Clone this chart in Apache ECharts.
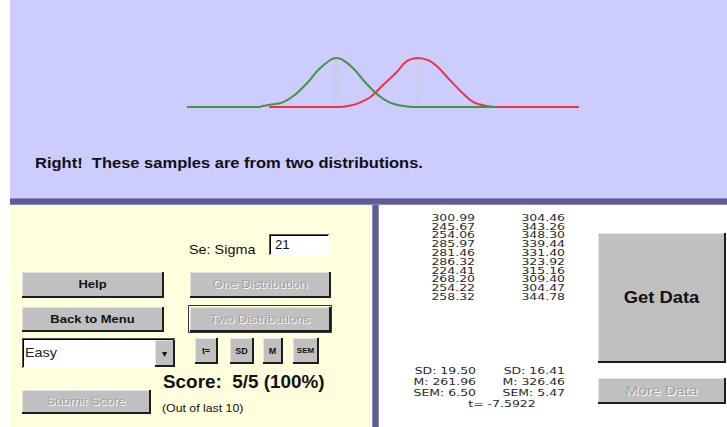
<!DOCTYPE html>
<html>
<head>
<meta charset="utf-8">
<script src="https://cdn.jsdelivr.net/npm/echarts@6/dist/echarts.min.js"></script>
<style>html,body{margin:0;padding:0;background:#fff}#c{width:727px;height:427px}</style>
</head>
<body>
<div id="c"></div>
<script>
// ---- data ----
const greenCurve = [[128,0],[190,0],[192,0.02],[200,0.05],[210,0.10],[220,0.25],[230,0.48],[240,0.76],[250,0.96],[255,1],[260,0.97],[270,0.78],[280,0.50],[290,0.26],[300,0.10],[310,0.03],[320,0],[392,0]];
const redCurve = [[198,0],[258,0],[265,0.02],[273,0.07],[284,0.20],[295,0.45],[307,0.72],[315,0.93],[325,1],[334,0.95],[341,0.83],[352,0.55],[363,0.28],[372,0.10],[383,0.02],[392,0],[462,0]];
const distMeans = [255, 325];
const sample1 = ['300.99','245.67','254.06','285.97','281.46','286.32','224.41','268.20','254.22','258.32'];
const sample2 = ['304.46','343.26','348.30','339.44','331.40','323.92','315.16','309.40','304.47','344.78'];
const stats1 = ['SD: 19.50','M: 261.96','SEM: 6.50'];
const stats2 = ['SD: 16.41','M: 326.46','SEM: 5.47'];
const tText = 't= -7.5922';
const message = 'Right!  These samples are from two distributions.';
const sigmaValue = '21';
const scoreText = 'Score:  5/5 (100%)';
const scoreNote = '(Out of last 10)';

const F = '"Liberation Sans", Arial, sans-serif';
const G = [];
function rect(x,y,w,h,fill,extra){G.push(Object.assign({type:'rect',shape:{x,y,width:w,height:h},style:{fill},silent:true,z:-10},extra||{}));}
function line(x1,y1,x2,y2,stroke,w){G.push({type:'line',shape:{x1,y1,x2,y2},style:{stroke,lineWidth:w||1},silent:true,z:-9});}
function text(t,x,y,font,fill,align,sx){G.push({type:'text',x,y,scaleX:sx||1,style:{text:t,font,fill:fill||'#000',textAlign:align||'left',textVerticalAlign:'middle'},silent:true,z:5});}
function button(x,y,w,h,label,opt){
  opt=opt||{};
  rect(x,y,w,h,'#c0c0c0');
  line(x,y+0.5,x+w,y+0.5,'#e4e4e4',1);
  line(x+0.5,y,x+0.5,y+h,'#e4e4e4',1);
  line(x,y+h,x+w+1,y+h,'#1e1e1e',2);
  line(x+w,y,x+w,y+h+1,'#1e1e1e',2);
  if(opt.focus){G.push({type:'rect',shape:{x:x-1.5,y:y-1.5,width:w+3,height:h+3},style:{fill:'none',stroke:'#333',lineWidth:1},silent:true,z:-8});}
  const cx=x+w/2, cy=y+h/2;
  const font=opt.font||('bold 11px '+F);
  const sx=opt.sx||1.18;
  if(opt.disabled){
    text(label,cx+1,cy+1,font,'#ffffff','center',sx);
    text(label,cx,cy,font,'#a0a0a0','center',sx);
  } else text(label,cx,cy,font,'#111','center',sx);
}

// panels
rect(10,0,717,198,'#ccccff');
rect(10,198,717,7,'#5e5e96');
line(10,198.5,727,198.5,'#8a8abc',1);
line(10,204.5,727,204.5,'#8a8abc',1);
rect(10,205,362,222,'#ffffdd');
rect(372,205,7,222,'#5e5e96');
line(372.5,205,372.5,427,'#8a8abc',1);
line(378.5,205,378.5,427,'#8a8abc',1);
rect(379,205,348,222,'#ffffff');

// message
text(message,35,163,'bold 14px '+F,'#111','left',1.18);

// left controls
text('Se: Sigma',189,250,'12px '+F,'#111','left',1.2);
rect(269,234,60,21,'#ffffff');
line(269,234.5,329,234.5,'#555',1);
line(269.5,234,269.5,255,'#555',1);
line(270,235.5,328,235.5,'#000',1);
line(270.5,235,270.5,254,'#000',1);
text(sigmaValue,275,245,'12px '+F,'#111','left',1.1);

button(22,272,141,25,'Help');
button(190,272,140,25,'One Distribution',{disabled:true,font:'11px '+F,sx:1.2});
button(22,307,141,24,'Back to Menu');
button(190,307,140,24,'Two Distributions',{disabled:true,focus:true,font:'11px '+F,sx:1.2});

// dropdown
rect(22,338,153,30,'#ffffff');
line(22,338.5,175,338.5,'#555',1);
line(22.5,338,22.5,368,'#555',1);
line(23,339.5,174,339.5,'#000',1);
line(23.5,339,23.5,367,'#000',1);
text('Easy',25,353,'12px '+F,'#222','left',1.2);
button(155,340,19,26,'\u25BE',{font:'10px '+F,sx:1});

button(195,338,22,25,'t=',{font:'bold 9px '+F,sx:1});
button(230,338,23,25,'SD',{font:'bold 9px '+F,sx:1});
button(263,338,19,25,'M',{font:'bold 9px '+F,sx:1});
button(293,338,25,25,'SEM',{font:'bold 8px '+F,sx:1});

button(22,390,128,23,'Submit Score',{disabled:true,font:'11px '+F,sx:1.2});
text(scoreText,163,382,'bold 18px '+F,'#111','left',1.05);
text(scoreNote,162,408,'11px '+F,'#111','left',1.12);

// right data columns
const NF='8.6px "DejaVu Sans", sans-serif';
const NS=1.45;
sample1.forEach((v,i)=>text(v,475,218+i*8.8,NF,'#2a2a2a','right',NS));
sample2.forEach((v,i)=>text(v,565,218+i*8.8,NF,'#2a2a2a','right',NS));
stats1.forEach((v,i)=>text(v,476,371+i*11,NF,'#2a2a2a','right',NS));
stats2.forEach((v,i)=>text(v,565,371+i*11,NF,'#2a2a2a','right',NS));
text(tText,502,404,NF,'#2a2a2a','center',NS);

button(598,233,127,129,'Get Data',{font:'bold 16px '+F,sx:1.15});
button(598,378,127,25,'More Data',{disabled:true,font:'13px '+F,sx:1.18});

const chart = echarts.init(document.getElementById('c'),null,{renderer:'svg'});
chart.setOption({
  animation:false,
  grid:{left:187,right:148,top:58,bottom:320},
  xAxis:{type:'value',min:128,max:462,show:false},
  yAxis:{type:'value',min:0,max:1,show:false},
  graphic:G,
  series:[
    {type:'line',data:[[distMeans[0],0],[distMeans[0],1]],showSymbol:false,lineStyle:{color:'#c8c8c8',width:1},z:1,silent:true},
    {type:'line',data:[[distMeans[1],0],[distMeans[1],1]],showSymbol:false,lineStyle:{color:'#c8c8c8',width:1},z:1,silent:true},
    {type:'line',data:redCurve,smooth:0.4,showSymbol:false,lineStyle:{color:'#ee3344',width:2},z:2,silent:true},
    {type:'line',data:greenCurve,smooth:0.4,showSymbol:false,lineStyle:{color:'#449444',width:2},z:3,silent:true}
  ]
});
</script>
</body>
</html>
